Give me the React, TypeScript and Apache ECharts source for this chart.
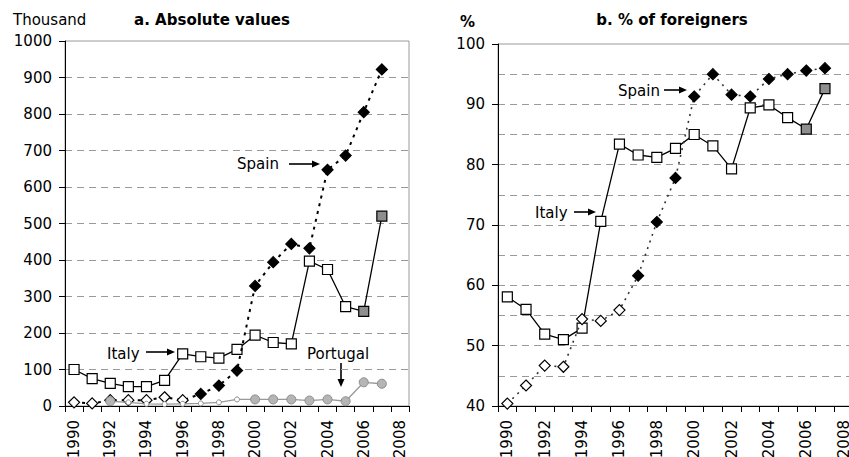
import React, { useEffect, useRef } from "react";
import * as echarts from "echarts";

const years = [
  "1990", "1991", "1992", "1993", "1994", "1995", "1996", "1997", "1998", "1999",
  "2000", "2001", "2002", "2003", "2004", "2005", "2006", "2007", "2008",
];

// Panel a: absolute values (thousand)
const italyAbs = [100, 75, 62, 53, 53, 70, 143, 135, 131, 155, 194, 174, 170, 397, 374, 272, 259, 520];
const spainAbs = [10, 7, 16, 16, 16, 24, 16, 33, 56, 97, 329, 394, 444, 432, 647, 686, 805, 922];
const portugalAbs = [null, null, 13, 10, 6, 5, 6, 7, 10, 18, 18, 18, 18, 15, 18, 13, 65, 61];

// Panel b: % of foreigners
const italyPct = [58.1, 56.0, 51.9, 51.0, 52.9, 70.6, 83.4, 81.6, 81.2, 82.7, 85.0, 83.1, 79.3, 89.4, 89.9, 87.8, 85.9, 92.6];
const spainPct = [40.4, 43.4, 46.7, 46.5, 54.4, 54.1, 55.9, 61.6, 70.5, 77.8, 91.3, 95.0, 91.6, 91.3, 94.2, 95.0, 95.6, 96.0];

const absTicks = { min: 0, max: 1000, interval: 100 };
const pctTicks = { min: 40, max: 100, interval: 10 };

const FONT = "DejaVu Sans";

function italyData(vals: number[]) {
  return vals.map((v, i) => ({
    value: v,
    itemStyle: {
      color: i >= 16 ? "#8e8e8e" : "#ffffff",
      borderColor: "#000",
      borderWidth: 1.2,
    },
  }));
}

function spainData(vals: number[]) {
  return vals.map((v, i) => ({
    value: v,
    itemStyle: {
      color: i >= 7 ? "#000" : "#fff",
      borderColor: "#000",
      borderWidth: 1.2,
    },
  }));
}

function portugalData(vals: (number | null)[]) {
  return vals.map((v, i) => {
    const small = i >= 3 && i <= 9;
    return {
      value: v,
      symbolSize: small ? 5 : 9,
      itemStyle: {
        color: small ? "#ffffff" : "#b5b5b5",
        borderColor: "#8c8c8c",
        borderWidth: 1,
      },
    };
  });
}

function arrowH(x1: number, x2: number, y: number) {
  return [
    { type: "line", shape: { x1, y1: y, x2: x2 - 7, y2: y }, style: { stroke: "#000", lineWidth: 1.6 } },
    {
      type: "polygon",
      shape: { points: [[x2, y], [x2 - 8, y - 3.5], [x2 - 8, y + 3.5]] },
      style: { fill: "#000" },
    },
  ];
}

function arrowV(x: number, y1: number, y2: number) {
  return [
    { type: "line", shape: { x1: x, y1, x2: x, y2: y2 - 7 }, style: { stroke: "#000", lineWidth: 1.6 } },
    {
      type: "polygon",
      shape: { points: [[x, y2], [x - 3.5, y2 - 8], [x + 3.5, y2 - 8]] },
      style: { fill: "#000" },
    },
  ];
}

function txt(text: string, x: number, y: number, opts: any = {}) {
  return {
    type: "text",
    x,
    y,
    style: {
      text,
      fontFamily: FONT,
      fontSize: opts.fontSize ?? 15,
      fontWeight: opts.fontWeight ?? "normal",
      fill: "#000",
      align: opts.align ?? "left",
      verticalAlign: "middle",
    },
  };
}

export default function App() {
  const ref = useRef<HTMLDivElement>(null);

  useEffect(() => {
    if (!ref.current) return;
    const chart = echarts.init(ref.current, undefined, { renderer: "svg" });

    const xAxisCommon = {
      type: "category",
      data: years,
      boundaryGap: true,
      axisLine: { show: true, lineStyle: { color: "#000", width: 1 } },
      axisTick: { show: true, interval: 0, length: 6, lineStyle: { color: "#000" } },
      axisLabel: {
        interval: 1,
        rotate: 90,
        margin: 14,
        fontFamily: FONT,
        fontSize: 15,
        color: "#000",
      },
      splitLine: { show: false },
    };

    const splitLineCommon = {
      show: true,
      showMinLine: false,
      showMaxLine: false,
      lineStyle: { color: "#9a9a9a", type: [7, 5], width: 1 },
    };

    const yAxisCommon = {
      type: "value",
      axisLine: { show: true, lineStyle: { color: "#000", width: 1 } },
      axisTick: { show: true, length: 6, lineStyle: { color: "#000" } },
      axisLabel: {
        margin: 13,
        fontFamily: FONT,
        fontSize: 15,
        color: "#000",
        formatter: (v: number) => String(v),
      },
      splitLine: splitLineCommon,
    };

    const gridCommon = {
      show: true,
      borderColor: "#9a9a9a",
      borderWidth: 1,
      containLabel: false,
      outerBoundsMode: "none",
    };

    const option: any = {
      animation: false,
      textStyle: { fontFamily: FONT },
      grid: [
        { ...gridCommon, left: 65, right: 440, top: 41, bottom: 51 },
        { ...gridCommon, left: 498, right: -4, top: 44, bottom: 51 },
      ],
      xAxis: [
        { ...xAxisCommon, gridIndex: 0 },
        { ...xAxisCommon, gridIndex: 1 },
      ],
      yAxis: [
        { ...yAxisCommon, gridIndex: 0, ...absTicks },
        {
          ...yAxisCommon,
          gridIndex: 1,
          ...pctTicks,
          minorTick: { show: false, splitNumber: 2 },
          minorSplitLine: { show: true, lineStyle: { color: "#9a9a9a", type: [7, 5], width: 1 } },
        },
      ],
      series: [
        {
          name: "Italy",
          type: "line",
          xAxisIndex: 0,
          yAxisIndex: 0,
          data: italyData(italyAbs),
          symbol: "rect",
          symbolSize: 10,
          lineStyle: { color: "#000", width: 1.3 },
          z: 3,
        },
        {
          name: "Spain",
          type: "line",
          xAxisIndex: 0,
          yAxisIndex: 0,
          data: spainData(spainAbs),
          symbol: "diamond",
          symbolSize: 11,
          lineStyle: { color: "#000", width: 2, type: [3, 5] },
          z: 4,
        },
        {
          name: "Portugal",
          type: "line",
          xAxisIndex: 0,
          yAxisIndex: 0,
          data: portugalData(portugalAbs),
          symbol: "circle",
          lineStyle: { color: "#999", width: 1.3 },
          z: 5,
        },
        {
          name: "Italy %",
          type: "line",
          xAxisIndex: 1,
          yAxisIndex: 1,
          data: italyData(italyPct),
          symbol: "rect",
          symbolSize: 10,
          lineStyle: { color: "#000", width: 1.3 },
          z: 3,
        },
        {
          name: "Spain %",
          type: "line",
          xAxisIndex: 1,
          yAxisIndex: 1,
          data: spainData(spainPct),
          symbol: "diamond",
          symbolSize: 11,
          lineStyle: { color: "#333", width: 1.6, type: [2, 5] },
          z: 4,
        },
      ],
      graphic: [
        txt("Thousand", 13, 20),
        txt("a. Absolute values", 212, 20, { align: "center", fontWeight: "bold" }),
        txt("%", 460, 22, { fontWeight: "bold" }),
        txt("b. % of foreigners", 672, 20, { align: "center", fontWeight: "bold" }),
        txt("Spain", 237, 164),
        ...arrowH(289, 320, 164),
        txt("Italy", 107, 354),
        ...arrowH(146, 175, 352),
        txt("Portugal", 307, 354),
        ...arrowV(341, 363, 387),
        txt("Spain", 618, 91),
        ...arrowH(664, 687, 90),
        txt("Italy", 535, 213),
        ...arrowH(574, 596, 212),
      ],
    };

    chart.setOption(option);
    return () => chart.dispose();
  }, []);

  return (
    <div
      ref={ref}
      style={{ position: "absolute", left: 0, top: 0, width: 849, height: 457 }}
    />
  );
}
